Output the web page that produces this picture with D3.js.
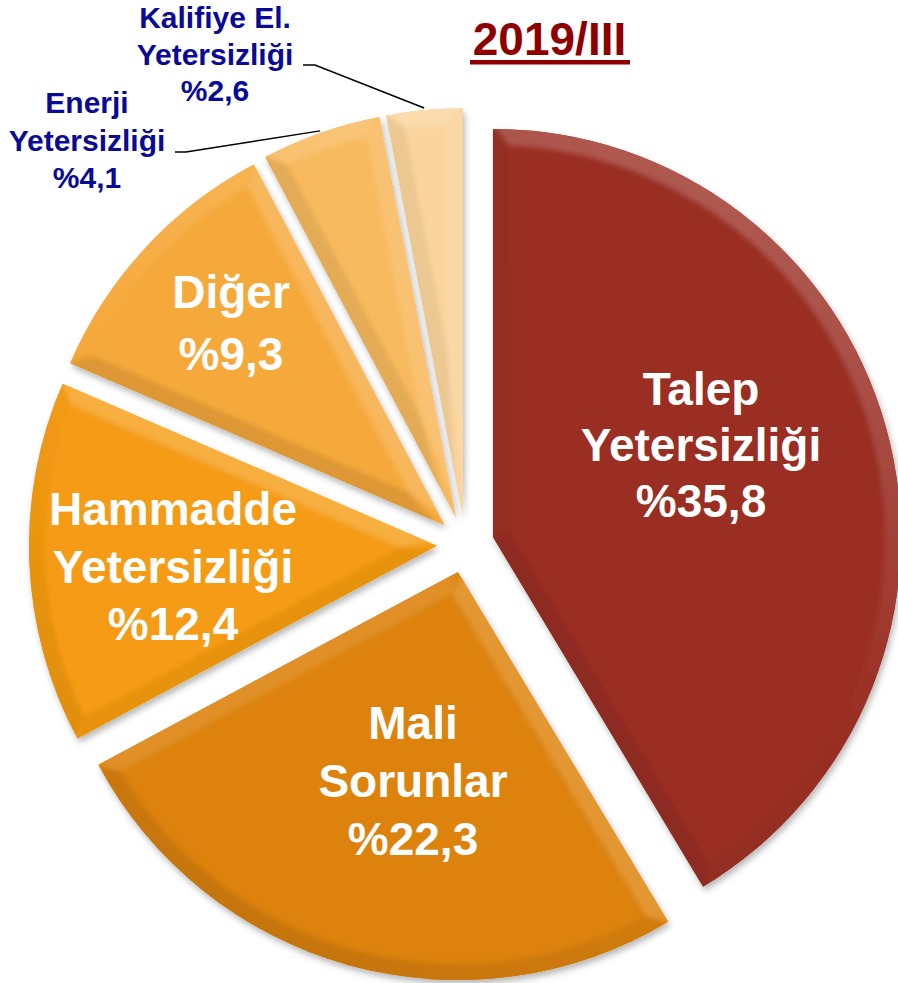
<!DOCTYPE html>
<html><head><meta charset="utf-8">
<script src="https://cdn.jsdelivr.net/npm/d3@7"></script>
<style>html,body{margin:0;padding:0;background:#fff;} svg{display:block}</style>
</head><body>
<svg id="c" width="898" height="983"></svg>
<script>
// ---- data ----
const categories = ["Talep Yetersizliği","Mali Sorunlar","Hammadde Yetersizliği","Diğer","Enerji Yetersizliği","Kalifiye El. Yetersizliği"];
const values = [35.8, 22.3, 12.4, 9.3, 4.1, 2.6];
const labelLines = [
  ["Talep","Yetersizliği","%35,8"],
  ["Mali","Sorunlar","%22,3"],
  ["Hammadde","Yetersizliği","%12,4"],
  ["Diğer","%9,3"],
  ["Enerji","Yetersizliği","%4,1"],
  ["Kalifiye El.","Yetersizliği","%2,6"]
];
const colors = ["#9A2F24","#DC820A","#F59B12","#F6A93B","#F8BA5E","#FAD49C"];
const title = "2019/III";

// ---- layout ----
const W = 898, H = 983;
const cx = 465.5, cy = 544.6, R = 408, explode = 28.5, bevel = 16;
const labelLayout = [
  {x:701, y:405, dy:56, outside:false},
  {x:413, y:739, dy:58, outside:false},
  {x:173, y:525, dy:57.5, outside:false},
  {x:231, y:308, dy:62, outside:false},
  {x:87,  y:113, dy:37.5, outside:true, elbow:[[175,152],[186,152]]},
  {x:215, y:28,  dy:36.5, outside:true, elbow:[[303,65],[315,65]]}
];

const svg = d3.select("#c");
const defs = svg.append("defs");
const f = defs.append("filter").attr("id","sh").attr("x","-10%").attr("y","-10%").attr("width","130%").attr("height","130%");
f.append("feDropShadow").attr("dx",2).attr("dy",4).attr("stdDeviation",3).attr("flood-color","#000").attr("flood-opacity",0.28);
const fb = defs.append("filter").attr("id","soft").attr("x","-5%").attr("y","-5%").attr("width","110%").attr("height","110%");
fb.append("feGaussianBlur").attr("stdDeviation",2.5);

const pie = d3.pie().sort(null).value(d=>d).startAngle(0).endAngle(2*Math.PI);
const arcs = pie(values);
const arcGen = d3.arc().innerRadius(0).outerRadius(R);

const pt = (a, r) => [r*Math.sin(a), -r*Math.cos(a)];
const L = (()=>{const v=[0.45,-0.89]; const n=Math.hypot(v[0],v[1]); return [v[0]/n, v[1]/n];})();
function shade(base, nAngle){
  const n = pt(nAngle,1);
  const s = n[0]*L[0] + n[1]*L[1];
  if (s >= 0) return d3.interpolateRgb(base, "#ffffff")(s*0.2);
  return d3.interpolateRgb(base, "#000000")(-s*0.1);
}

arcs.forEach((p, i) => {
  const a0 = p.startAngle, a1 = p.endAngle, h = (a1-a0)/2, m = a0 + h;
  const off = pt(m, explode);
  const g = svg.append("g").attr("transform", `translate(${cx+off[0]},${cy+off[1]})`).attr("filter","url(#sh)");
  const base = colors[i];
  const cp = defs.append("clipPath").attr("id","cp"+i);
  cp.append("path").attr("d", arcGen(p));
  g.append("path").attr("d", arcGen(p)).attr("fill", base);

  const bg = g.append("g").attr("clip-path",`url(#cp${i})`).append("g").attr("filter","url(#soft)");

  const Rin = R - bevel;
  const P = pt(m, bevel/Math.sin(h));
  function inter(a){
    const u = pt(a,1);
    const pu = P[0]*u[0] + P[1]*u[1];
    const pp = P[0]*P[0] + P[1]*P[1];
    const t = -pu + Math.sqrt(pu*pu - pp + Rin*Rin);
    const Q = [P[0]+t*u[0], P[1]+t*u[1]];
    let qa = Math.atan2(Q[0], -Q[1]);
    qa += 2*Math.PI*Math.round((a - qa)/(2*Math.PI));
    return {Q, qa};
  }
  const s0 = inter(a0), s1 = inter(a1);
  const A0 = pt(a0,R+6), A1 = pt(a1,R+6);
  const ext = (Q, a) => [Q[0] - 0, Q[1] - 0];
  // start edge band (extended outward a bit to avoid blur fading at the edge)
  const e0 = pt(a0 - Math.PI/2, 6), e1 = pt(a1 + Math.PI/2, 6);
  bg.append("path").attr("d", `M${e0}L${[A0[0]+e0[0],A0[1]+e0[1]]}L${s0.Q}L${P}Z`)
    .attr("fill", shade(base, a0 - Math.PI/2));
  bg.append("path").attr("d", `M${e1}L${P}L${s1.Q}L${[A1[0]+e1[0],A1[1]+e1[1]]}Z`)
    .attr("fill", shade(base, a1 + Math.PI/2));
  const N = Math.max(4, Math.ceil((a1-a0)/(1.5*Math.PI/180)));
  for (let k=0;k<N;k++){
    const t0 = k/N, t1 = (k+1)/N;
    const o0 = a0 + (a1-a0)*t0, o1 = a0 + (a1-a0)*t1;
    const q0 = s0.qa + (s1.qa - s0.qa)*t0, q1 = s0.qa + (s1.qa - s0.qa)*t1;
    const c = shade(base, (o0+o1)/2);
    bg.append("path")
      .attr("d", `M${pt(o0,R+6)}L${pt(o1,R+6)}L${pt(q1,Rin)}L${pt(q0,Rin)}Z`)
      .attr("fill", c).attr("stroke", c).attr("stroke-width", 0.8);
  }
  const large = (s1.qa - s0.qa) > Math.PI ? 1 : 0;
  bg.append("path")
    .attr("d", `M${P}L${s0.Q}A${Rin},${Rin} 0 ${large} 1 ${s1.Q}Z`)
    .attr("fill", base);

  // labels
  const lay = labelLayout[i];
  const t = svg.append("text")
    .attr("text-anchor","middle")
    .attr("font-family","'Liberation Sans', Arial, sans-serif")
    .attr("font-weight","bold")
    .attr("font-size", lay.outside ? 30 : 46)
    .attr("fill", lay.outside ? "#0A0A96" : "#ffffff");
  labelLines[i].forEach((ln, j) => {
    t.append("tspan").attr("x", lay.x).attr("y", lay.y + j*lay.dy).text(ln);
  });
  if (lay.outside){
    const e = pt(m, R + 2);
    const end = [cx+off[0]+e[0], cy+off[1]+e[1]];
    const pts = [lay.elbow[0], lay.elbow[1], end];
    svg.append("path").attr("d", d3.line()(pts))
      .attr("fill","none").attr("stroke","#000").attr("stroke-width",1.5);
  }
});

// title
svg.append("text").attr("x", 549.5).attr("y", 55)
  .attr("text-anchor","middle")
  .attr("font-family","'Liberation Sans', Arial, sans-serif")
  .attr("font-weight","bold").attr("font-size",46)
  .attr("fill","#8E0000").text(title);
svg.append("rect").attr("x",470).attr("y",60).attr("width",160).attr("height",4.5).attr("fill","#8E0000");
</script>
</body></html>
